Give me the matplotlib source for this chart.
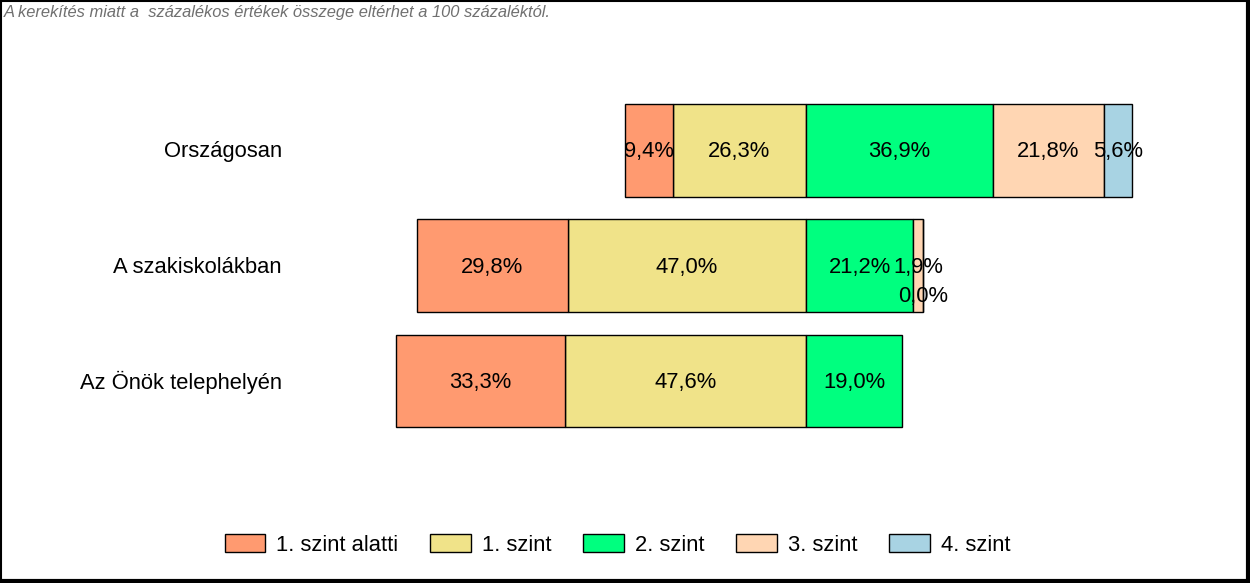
import matplotlib.pyplot as plt
from matplotlib.lines import Line2D
from matplotlib.patches import Patch

plt.rcParams["font.family"] = ["Liberation Sans", "DejaVu Sans"]

# Data
groups = ["Országosan", "A szakiskolákban", "Az Önök telephelyén"]
levels = ["1. szint alatti", "1. szint", "2. szint", "3. szint", "4. szint"]
colors = ["#FF9A70", "#F0E389", "#00FF7F", "#FFD6B3", "#A8D3E3"]
below1 = [9.4, 29.8, 33.3]
level1 = [26.3, 47.0, 47.6]
level2 = [36.9, 21.2, 19.0]
level3 = [21.8, 1.9, None]
level4 = [5.6, 0.0, None]
note = "A kerekítés miatt a  százalékos értékek összege eltérhet a 100 százaléktól."

W, H = 1250, 583
fig = plt.figure(figsize=(W / 100, H / 100), dpi=100)
ax = fig.add_axes([0, 0, 1, 1])
ax.set_xlim(-159.0, 87.6)
ax.set_ylim(3.749, -1.299)
ax.axis("off")

bar_h = 0.805
fs = 15.8
ty = 0.015  # small downward nudge of text


def fmt(v):
    return f"{v:.1f}".replace(".", ",") + "%"


def draw(left, v, col, y):
    ax.barh(y, v, left=left, height=bar_h, color=col, edgecolor="black", linewidth=1)


for i in range(len(groups)):
    # left side (below 2. szint), stacked from centre outwards
    l1 = -level1[i]
    draw(l1, level1[i], colors[1], i)
    ax.text(l1 + level1[i] / 2, i + ty, fmt(level1[i]), ha="center", va="center", fontsize=fs)
    l0 = l1 - below1[i]
    draw(l0, below1[i], colors[0], i)
    ax.text(l0 + below1[i] / 2, i + ty, fmt(below1[i]), ha="center", va="center", fontsize=fs)
    # right side
    start = 0.0
    for vals, col in [(level2, colors[2]), (level3, colors[3]), (level4, colors[4])]:
        v = vals[i]
        if v is None:
            continue
        draw(start, v, col, i)
        dy = 0.25 if v == 0 else 0
        ax.text(start + v / 2, i + dy + ty, fmt(v), ha="center", va="center", fontsize=fs)
        start += v

# category labels
for i, g in enumerate(groups):
    ax.text(-103.4, i + ty, g, ha="right", va="center", fontsize=fs)

fig.text(4 / W, 1 - 13 / H, note, ha="left", va="center", fontsize=11.9,
         style="italic", color="#707070")

handles = [Patch(facecolor=c, edgecolor="black", linewidth=1) for c in colors]
fig.legend(handles, levels, loc="center", bbox_to_anchor=(0.494, 1 - 545 / H),
           ncol=5, frameon=False, fontsize=fs, handlelength=1.85, handleheight=0.9,
           columnspacing=1.45, handletextpad=0.5)

# frame around the picture
fig.add_artist(Line2D([0.5 / W, 0.5 / W], [0, 1], color="black", lw=1.5, transform=fig.transFigure))
fig.add_artist(Line2D([0, 1], [1 - 0.5 / H, 1 - 0.5 / H], color="black", lw=1.5, transform=fig.transFigure))
fig.add_artist(Line2D([1 - 2 / W, 1 - 2 / W], [0, 1], color="black", lw=3, transform=fig.transFigure))
fig.add_artist(Line2D([0, 1], [2 / H, 2 / H], color="black", lw=3, transform=fig.transFigure))

fig.savefig("out.png", dpi=100)
